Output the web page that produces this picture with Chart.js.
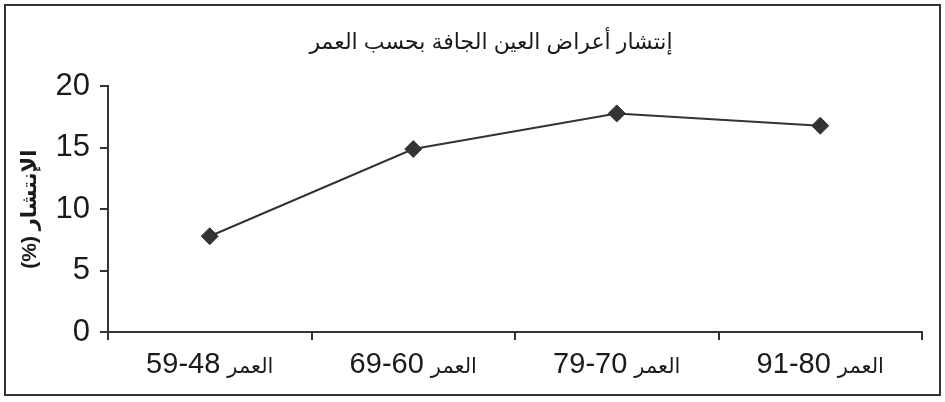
<!DOCTYPE html>
<html lang="ar">
<head>
  <meta charset="UTF-8">
  <title>إنتشار أعراض العين الجافة بحسب العمر</title>
  <script src="https://cdn.jsdelivr.net/npm/chart.js"></script>
  <style>
    html, body { margin: 0; padding: 0; background: #fff; }
    #box {
      position: absolute; left: 4px; top: 4px;
      width: 933px; height: 388px;
      border: 2px solid #333;
    }
    canvas { display: block; }
  </style>
</head>
<body>
  <div id="box"><canvas id="dryEye" width="933" height="388"></canvas></div>

  <script>
    const ageWord = 'العمر';
    const ageRanges = ['59-48', '69-60', '79-70', '91-80'];
    const prevalence = [7.8, 14.9, 17.8, 16.8];
    const yTicks = [0, 5, 10, 15, 20];

    const chartTitle = 'إنتشار أعراض العين الجافة بحسب العمر';
    const yTitle = '(%) الإنتشار';

    const ink = '#333';
    const textInk = '#1a1a1a';
    const fontFam = '"Liberation Sans", Arial, "DejaVu Sans", sans-serif';

    // x labels mix a big number with a smaller Arabic word, so draw them here
    const ageLabels = {
      id: 'ageLabels',
      afterDraw(chart) {
        const x = chart.scales.x;
        const ctx = chart.ctx;
        ctx.save();
        ctx.fillStyle = textInk;
        ctx.textBaseline = 'alphabetic';
        ctx.textAlign = 'left';
        const base = x.top + 41;
        ageRanges.forEach((rng, i) => {
          const px = x.getPixelForValue(i);
          ctx.font = '29px ' + fontFam;
          const nw = ctx.measureText(rng).width;
          ctx.font = '21px ' + fontFam;
          const aw = ctx.measureText(ageWord).width;
          const gap = 7;
          const start = px - (nw + gap + aw) / 2;
          ctx.font = '29px ' + fontFam;
          ctx.fillText(rng, start, base);
          ctx.font = '21px ' + fontFam;
          ctx.fillText(ageWord, start + nw + gap, base);
        });
        ctx.restore();
      }
    };

    // the title in the source sits a little right of the canvas centre
    const titleShift = {
      id: 'titleShift',
      afterLayout(chart) {
        const t = chart.titleBlock;
        if (t) { t.left += 54; }
      }
    };

    new Chart(document.getElementById('dryEye'), {
      type: 'line',
      data: {
        labels: ageRanges.map(r => ageWord + ' ' + r),
        datasets: [{
          data: prevalence,
          borderColor: ink,
          borderWidth: 2,
          backgroundColor: ink,
          pointStyle: 'rectRot',
          pointRadius: 8.5,
          pointBorderWidth: 1,
          pointBorderColor: ink,
          pointBackgroundColor: ink,
          tension: 0,
          fill: false
        }]
      },
      options: {
        responsive: false,
        animation: false,
        events: [],
        layout: { padding: { right: 17, left: 0, top: 0, bottom: 0 } },
        plugins: {
          legend: { display: false },
          tooltip: { enabled: false },
          title: {
            display: true,
            text: chartTitle,
            color: textInk,
            font: { family: fontFam, size: 22, weight: 'normal' },
            padding: { top: 24, bottom: 30 }
          }
        },
        scales: {
          x: {
            type: 'category',
            offset: true,
            grid: {
              offset: true,
              drawOnChartArea: false,
              drawTicks: true,
              tickLength: 8,
              color: ink,
              lineWidth: 2
            },
            border: { display: true, color: ink, width: 2 },
            ticks: { display: false },
            afterFit(s) { s.height = 62; }
          },
          y: {
            min: 0,
            max: 20,
            afterBuildTicks(s) { s.ticks = yTicks.map(v => ({ value: v })); },
            grid: {
              drawOnChartArea: false,
              drawTicks: true,
              tickLength: 8,
              color: ink,
              lineWidth: 2
            },
            border: { display: true, color: ink, width: 2 },
            ticks: {
              color: textInk,
              padding: 10,
              font: { family: fontFam, size: 31 }
            },
            title: {
              display: true,
              text: yTitle,
              color: textInk,
              font: { family: fontFam, size: 21, weight: 'bold' },
              padding: { top: 12, bottom: 0 }
            },
            afterFit(s) { s.width = 102; }
          }
        }
      },
      plugins: [ageLabels, titleShift]
    });
  </script>
</body>
</html>
